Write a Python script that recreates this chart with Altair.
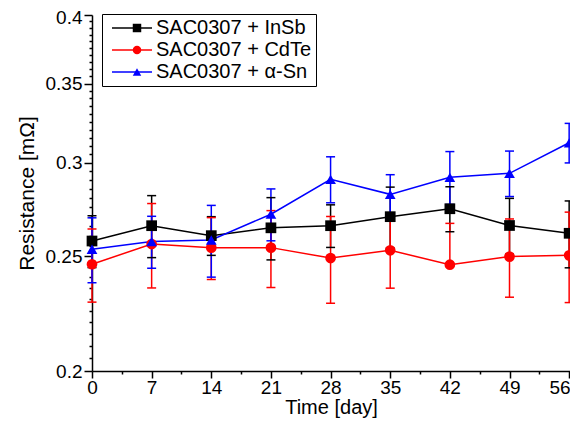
import altair as alt
import pandas as pd

days = [0, 7, 14, 21, 28, 35, 42, 49, 56]
series_names = ["SAC0307 + InSb", "SAC0307 + CdTe", "SAC0307 + α-Sn"]
series_codes = ["a", "b", "c"]

insb = [0.2576, 0.2654, 0.2603, 0.2643, 0.2654, 0.2701, 0.2743, 0.2655, 0.2615]
insb_err = [0.013, 0.016, 0.0098, 0.016, 0.011, 0.016, 0.012, 0.0144, 0.017]

cdte = [0.2462, 0.2561, 0.2543, 0.2543, 0.2492, 0.2530, 0.2460, 0.2499, 0.2505]
cdte_err_hi = [0.0175, 0.021, 0.0153, 0.019, 0.021, 0.018, 0.0206, 0.019, 0.022]
cdte_err_lo = [0.0175, 0.021, 0.0153, 0.019, 0.021, 0.018, 0.0, 0.019, 0.022]

sn = [0.2535, 0.2573, 0.2581, 0.2714, 0.2905, 0.2821, 0.2916, 0.2939, 0.3119]
sn_err = [0.016, 0.013, 0.018, 0.0137, 0.013, 0.011, 0.015, 0.013, 0.012]

colors = ["#000000", "#ff0000", "#0000ff"]
shapes = ["square", "circle", "triangle-up"]

x_ticks = [i * 3.5 for i in range(17)]
y_ticks = [round(0.2 + 0.005 * i, 3) for i in range(41)]

rows = []
for name, code, vals, elo, ehi in [
    (series_names[0], series_codes[0], insb, insb_err, insb_err),
    (series_names[1], series_codes[1], cdte, cdte_err_lo, cdte_err_hi),
    (series_names[2], series_codes[2], sn, sn_err, sn_err),
]:
    for d, v, el, eh in zip(days, vals, elo, ehi):
        rows.append({"series": name, "code": code, "day": d, "value": v, "lo": v - el, "hi": v + eh})
df = pd.DataFrame(rows)

FONT = "Liberation Sans"

xscale = alt.Scale(domain=[0, 56.1], nice=False, zero=False)
yscale = alt.Scale(type="log", domain=[0.2, 0.4], nice=False)

MAJ_Y = "abs(datum.value * 20 - round(datum.value * 20)) < 0.001"

x_axis = alt.Axis(
    title="Time [day]",
    values=x_ticks,
    labelExpr="datum.value % 7 == 0 ? datum.label : ''",
    tickSize={"condition": {"test": "datum.value % 7 == 0", "value": 7}, "value": 3},
    labelAlign={"condition": {"test": "datum.value == 56", "value": "right"}, "value": "center"},
    labelOffset={"condition": {"test": "datum.value == 56", "value": 1}, "value": 0},
    labelFontSize=19,
    titleFontSize=20,
    labelPadding=0,
    titlePadding=0,
    labelOverlap=False,
    labelFlush=False,
)
y_axis = alt.Axis(
    title="Resistance [mΩ]",
    values=y_ticks,
    labelExpr=MAJ_Y + " ? format(datum.value, '~g') : ''",
    tickSize={"condition": {"test": MAJ_Y, "value": 8}, "value": 3},
    labelOffset={"condition": {"test": "datum.value > 0.399", "value": 2}, "value": 0},
    labelFontSize=19,
    titleFontSize=21,
    labelPadding=2,
    titlePadding=8,
    labelOverlap=False,
    labelFlush=False,
)

legend_lines = alt.Legend(
    title=None,
    orient="none",
    legendX=10,
    legendY=-1,
    symbolType="stroke",
    symbolSize=1600,
    symbolStrokeWidth=1.5,
    symbolOffset=5,
    labelOffset=3,
    labelFontSize=20,
    labelFont=FONT,
    labelColor="black",
    labelLimit=0,
    clipHeight=20,
    rowPadding=2,
    padding=4,
    strokeColor="black",
)
legend_marks = alt.Legend(
    title=None,
    orient="none",
    legendX=10,
    legendY=-1,
    symbolSize=72,
    symbolStrokeWidth=0,
    symbolOffset=21,
    labelExpr="''",
    labelFontSize=20,
    labelFont=FONT,
    clipHeight=20,
    rowPadding=2,
    padding=4,
)

stroke = alt.Stroke("series:N", scale=alt.Scale(domain=series_names, range=colors), legend=legend_lines)
X = alt.X("day:Q", scale=xscale, axis=x_axis)

base = alt.Chart(df)

rules = base.mark_rule(strokeWidth=1.5).encode(
    x=X, y=alt.Y("lo:Q", scale=yscale, axis=y_axis), y2="hi:Q", stroke=stroke
)
caps_lo = base.mark_rule(strokeWidth=1.5, xOffset=-4.5, x2Offset=4.5).encode(
    x=X, x2="day:Q", y=alt.Y("lo:Q", scale=yscale), stroke=stroke
)
caps_hi = base.mark_rule(strokeWidth=1.5, xOffset=-4.5, x2Offset=4.5).encode(
    x=X, x2="day:Q", y=alt.Y("hi:Q", scale=yscale), stroke=stroke
)
lines = base.mark_line(strokeWidth=1.5).encode(
    x=X, y=alt.Y("value:Q", scale=yscale), stroke=stroke
)
points = base.mark_point(filled=True, opacity=1, size=115).encode(
    x=X,
    y=alt.Y("value:Q", scale=yscale),
    color=alt.Color("code:N", scale=alt.Scale(domain=series_codes, range=colors), legend=legend_marks),
    shape=alt.Shape("code:N", scale=alt.Scale(domain=series_codes, range=shapes), legend=legend_marks),
)

chart = (
    alt.layer(rules, caps_lo, caps_hi, lines, points)
    .properties(
        width=478,
        height=356,
        autosize=alt.AutoSizeParams(type="none"),
        padding={"left": 84, "top": 7, "right": 0, "bottom": 47},
    )
    .configure(font=FONT)
    .configure_view(stroke=None)
    .configure_axis(
        grid=False,
        domainColor="black",
        domainWidth=1.5,
        tickColor="black",
        tickWidth=1.5,
        labelColor="black",
        titleColor="black",
        labelFont=FONT,
        titleFont=FONT,
        titleFontWeight="normal",
    )
)

chart.save("out.html", embed_options={"renderer": "svg", "actions": False})
